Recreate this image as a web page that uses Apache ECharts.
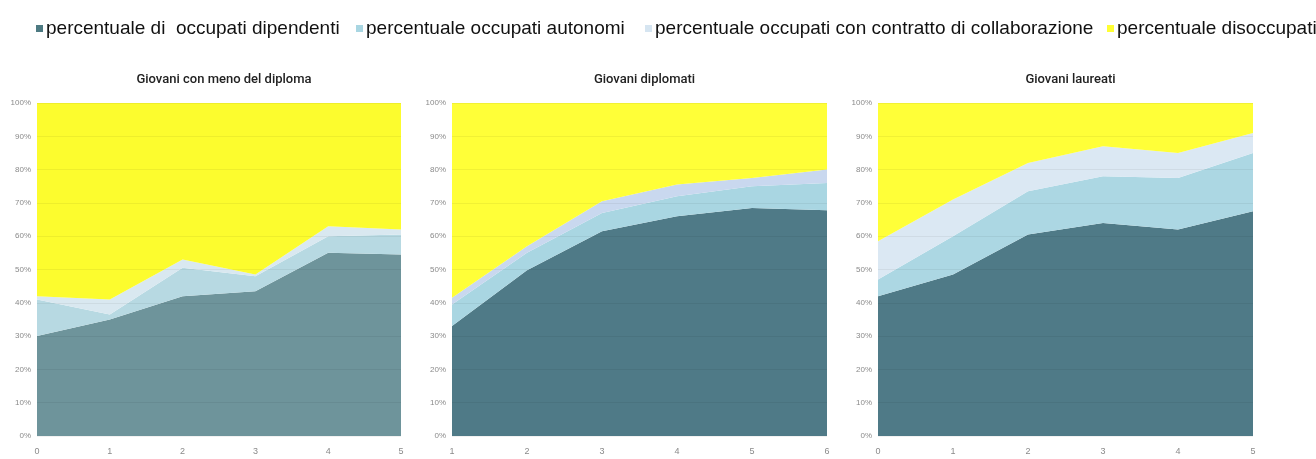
<!DOCTYPE html>
<html>
<head>
    <meta charset="utf-8">
    <title>Giovani - condizione occupazionale</title>
    <script src="https://cdn.jsdelivr.net/npm/echarts@6/dist/echarts.min.js"></script>
    <style>
        html, body { margin: 0; padding: 0; background: #ffffff; }
        #chart { width: 1316px; height: 459px; }
    </style>
</head>
<body>
<div id="chart"></div>
<script>
    // nomi delle serie (legenda)
    var seriesNames = [
        'percentuale di  occupati dipendenti',
        'percentuale occupati autonomi',
        'percentuale occupati con contratto di collaborazione',
        'percentuale disoccupati'
    ];
    var panelTitles = ['Giovani con meno del diploma', 'Giovani diplomati', 'Giovani laureati'];

    // categorie asse x
    var catsMenoDiploma = ['0', '1', '2', '3', '4', '5'];
    var catsDiplomati = ['1', '2', '3', '4', '5', '6'];
    var catsLaureati = ['0', '1', '2', '3', '4', '5'];

    // Giovani con meno del diploma (valori %, impilati)
    var dipMenoDiploma = [30, 35, 42, 43.5, 55, 54.5];
    var autMenoDiploma = [11, 1.5, 8.5, 4.5, 5, 6];
    var colMenoDiploma = [1, 4.5, 2.5, 0.5, 3, 1.5];
    var disMenoDiploma = [58, 59, 47, 51.5, 37, 38];

    // Giovani diplomati
    var dipDiplomati = [33, 49.8, 61.5, 66, 68.5, 67.8];
    var autDiplomati = [6.5, 5.2, 5.5, 6, 6.5, 8.2];
    var colDiplomati = [2, 2, 3.5, 3.5, 2.5, 4];
    var disDiplomati = [58.5, 43, 29.5, 24.5, 22.5, 20];

    // Giovani laureati
    var dipLaureati = [42, 48.5, 60.5, 64, 62, 67.5];
    var autLaureati = [5, 11.5, 13, 14, 15.5, 17.5];
    var colLaureati = [11.5, 11, 8.5, 9, 7.5, 6];
    var disLaureati = [41.5, 29, 18, 13, 15, 9];

    var myChart = echarts.init(document.getElementById('chart'));

    var legendColors = ['#4d7a82', '#a9d6e2', '#d6e5f1', '#ffff33'];
    var legendLeft = [36, 356, 645, 1107];

    var panels = [
        {cats: catsMenoDiploma, data: [dipMenoDiploma, autMenoDiploma, colMenoDiploma, disMenoDiploma],
            colors: ['#6e949b', '#b7d9e2', '#d9e8f0', '#fcfc2e'], left: 37, width: 364},
        {cats: catsDiplomati, data: [dipDiplomati, autDiplomati, colDiplomati, disDiplomati],
            colors: ['#4f7a87', '#a9d6e2', '#c9d8ef', '#ffff38'], left: 452, width: 375},
        {cats: catsLaureati, data: [dipLaureati, autLaureati, colLaureati, disLaureati],
            colors: ['#4f7a87', '#acd7e3', '#dbe8f3', '#ffff38'], left: 878, width: 375}
    ];

    var grids = [], xAxes = [], yAxes = [], series = [], titles = [], legends = [];

    panels.forEach(function (p, i) {
        grids.push({left: p.left, width: p.width, top: 103, height: 333});
        titles.push({
            text: panelTitles[i],
            left: p.left + p.width / 2,
            top: 68,
            textAlign: 'center',
            textStyle: {fontFamily: 'Roboto', fontSize: 13, fontWeight: 500, color: '#222'}
        });
        xAxes.push({
            type: 'category',
            gridIndex: i,
            data: p.cats,
            boundaryGap: false,
            axisLine: {show: false},
            axisTick: {show: false},
            axisLabel: {fontSize: 9, color: '#8a8a8a', margin: 11}
        });
        yAxes.push({
            type: 'value',
            gridIndex: i,
            min: 0,
            max: 100,
            interval: 10,
            z: 5,
            axisLine: {show: false},
            axisTick: {show: false},
            axisLabel: {fontSize: 8, color: '#8a8a8a', margin: 6, formatter: '{value}%'},
            splitLine: {lineStyle: {color: 'rgba(0,0,0,0.055)', width: 1}}
        });
        p.data.forEach(function (vals, k) {
            series.push({
                name: seriesNames[k],
                type: 'line',
                xAxisIndex: i,
                yAxisIndex: i,
                stack: 'tot' + i,
                data: vals,
                symbol: 'none',
                lineStyle: {width: 0},
                itemStyle: {color: p.colors[k]},
                areaStyle: {color: p.colors[k], opacity: 1}
            });
        });
    });

    // una legenda per ogni voce, per controllarne la posizione
    seriesNames.forEach(function (n, k) {
        legends.push({
            left: legendLeft[k],
            top: 19,
            padding: 0,
            icon: 'rect',
            itemWidth: 7,
            itemHeight: 7,
            selectedMode: false,
            data: [{name: n, itemStyle: {color: legendColors[k]}}],
            textStyle: {fontFamily: 'Liberation Sans', fontSize: 19, color: '#111', padding: [0, 0, 0, -2]}
        });
    });

    var option = {
        animation: false,
        title: titles,
        legend: legends,
        grid: grids,
        xAxis: xAxes,
        yAxis: yAxes,
        series: series
    };
    myChart.setOption(option);
</script>
</body>
</html>
